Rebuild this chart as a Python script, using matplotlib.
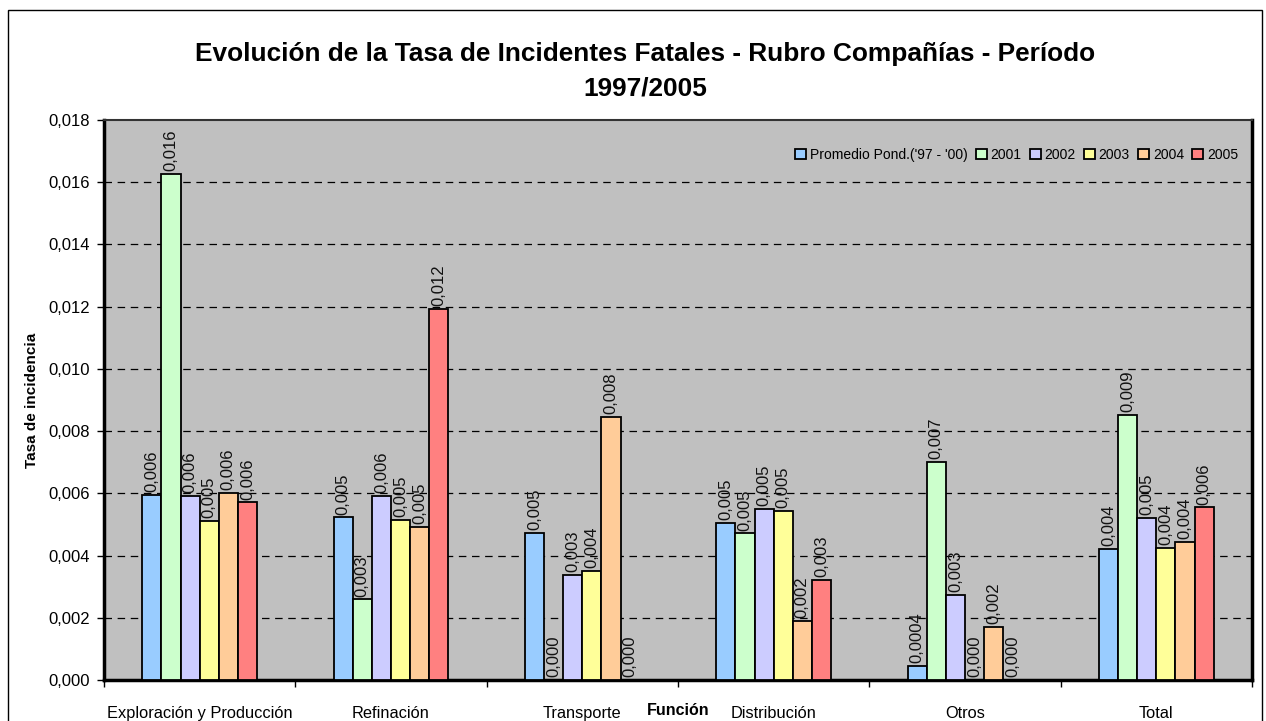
import numpy as np
import matplotlib.pyplot as plt
from matplotlib.patches import Rectangle
from matplotlib.ticker import FuncFormatter

plt.rcParams['font.family'] = ['Liberation Sans', 'DejaVu Sans']

categorias = ['Exploración y Producción', 'Refinación', 'Transporte',
              'Distribución', 'Otros', 'Total']
series = ["Promedio Pond.('97 - '00)", '2001', '2002', '2003', '2004', '2005']

promedio = [0.00595, 0.00523, 0.00474, 0.00504, 0.00045, 0.00422]
v2001 = [0.01627, 0.00259, 0.0, 0.00471, 0.00700, 0.00851]
v2002 = [0.00592, 0.00592, 0.00338, 0.00549, 0.00273, 0.00522]
v2003 = [0.00511, 0.00514, 0.00351, 0.00544, 0.0, 0.00424]
v2004 = [0.00602, 0.00493, 0.00845, 0.00191, 0.00171, 0.00445]
v2005 = [0.00571, 0.01193, 0.0, 0.00321, 0.0, 0.00555]
valores = [promedio, v2001, v2002, v2003, v2004, v2005]

colores = ['#99CCFF', '#CCFFCC', '#CCCCFF', '#FFFF99', '#FFCC99', '#FF8080']

fig = plt.figure(figsize=(12.66, 7.21), dpi=100)
ax = fig.add_axes([104/1266, 1 - 680/721, (1252 - 104)/1266, (680 - 120)/721])
ax.set_facecolor('#C0C0C0')

# marco exterior del grafico
fig.patches.append(Rectangle((8/1266, -0.05), (1262 - 8)/1266, 1.05 - 10/721,
                             transform=fig.transFigure, fill=False,
                             edgecolor='black', linewidth=1.0))

x = np.arange(len(categorias))
w = 0.1
for j, (vals, col, nom) in enumerate(zip(valores, colores, series)):
    pos = x + (j - 2.5) * w
    ax.bar(pos, vals, width=w, color=col, edgecolor='black', linewidth=1.3,
           label=nom, zorder=3)
    for xi, v in zip(pos, vals):
        txt = '0,0004' if 0 < v < 0.0005 else f'{v:.3f}'.replace('.', ',')
        ax.annotate(txt, (xi, v), xytext=(0, 2), textcoords='offset points',
                    rotation=90, ha='center', va='bottom', fontsize=12,
                    color='#111111', zorder=4)

ax.set_xlim(-0.5, 5.5)
ax.set_ylim(0, 0.018)
ax.set_yticks(np.arange(0, 0.0181, 0.002))
ax.yaxis.set_major_formatter(FuncFormatter(lambda v, p: f'{v:.3f}'.replace('.', ',')))
ax.tick_params(axis='y', direction='out', length=5, width=1, labelsize=12, pad=5)

ax.set_xticks(np.arange(-0.5, 5.6, 1))
ax.set_xticklabels([])
ax.tick_params(axis='x', which='major', direction='out', length=5, width=1)
ax.set_xticks(x, minor=True)
ax.set_xticklabels(categorias, minor=True)
ax.tick_params(axis='x', which='minor', length=0, labelsize=11.8, pad=19)

for g in np.arange(0.002, 0.0161, 0.002):
    ax.axhline(g, color='black', linestyle=(0, (6, 4.5)), linewidth=0.9, zorder=1)

for lado in ['left', 'bottom', 'right']:
    ax.spines[lado].set_linewidth(2.5)
ax.spines['top'].set_linewidth(1.5)
ax.spines['top'].set_color('#333333')

ax.set_ylabel('Tasa de incidencia', fontsize=11, fontweight='bold', labelpad=7)
ax.text(0.5, -0.055, 'Función', transform=ax.transAxes, ha='center', va='center',
        fontsize=11.5, fontweight='bold')

ax.legend(loc='upper right', bbox_to_anchor=(0.995, 0.965), ncol=6, frameon=False,
          fontsize=10, handlelength=0.8, handleheight=0.8, handletextpad=0.25,
          columnspacing=0.6, borderaxespad=0.2)

fig.text(645/1266, 1 - 71/721, 'Evolución de la Tasa de Incidentes Fatales - Rubro Compañías - Período\n1997/2005',
         ha='center', va='center', fontsize=18.9, fontweight='bold', linespacing=1.55)

fig.savefig('out.png', dpi=100)
